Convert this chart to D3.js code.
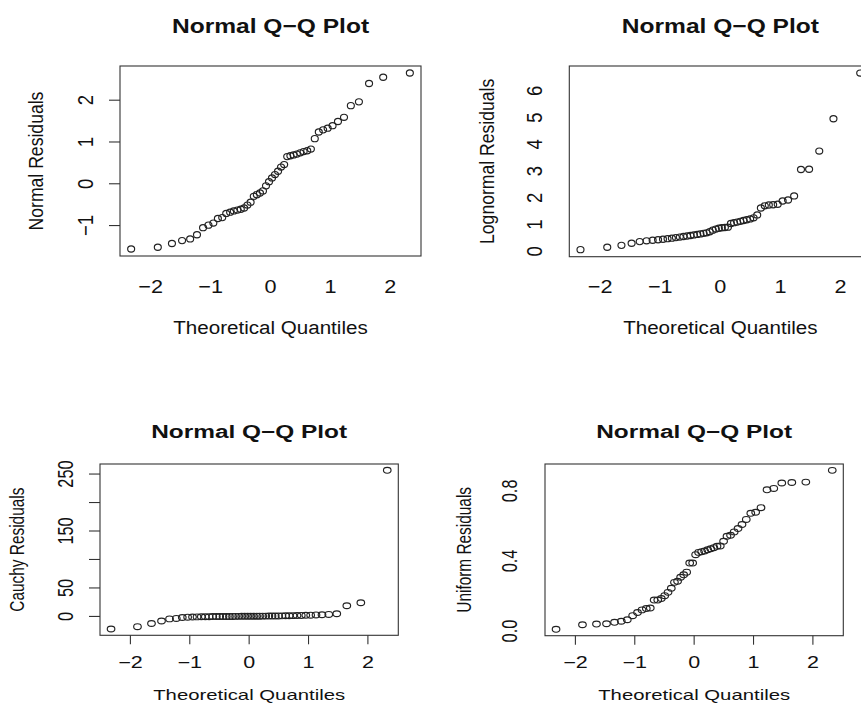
<!DOCTYPE html>
<html><head><meta charset="utf-8">
<script src="https://cdn.jsdelivr.net/npm/d3@7"></script>
<style>body{margin:0;background:#fff}svg{display:block}text{font-family:"Liberation Sans",Arial,sans-serif;fill:#111}</style>
</head><body>
<svg id="c" width="861" height="705"></svg>
<script>
const theoreticalQuantiles = [-2.326,-1.881,-1.645,-1.476,-1.341,-1.227,-1.126,-1.036,-0.954,-0.878,-0.806,-0.739,-0.674,-0.613,-0.553,-0.496,-0.440,-0.385,-0.332,-0.279,-0.228,-0.176,-0.126,-0.075,-0.025,0.025,0.075,0.126,0.176,0.228,0.279,0.332,0.385,0.440,0.496,0.553,0.613,0.674,0.739,0.806,0.878,0.954,1.036,1.126,1.227,1.341,1.476,1.645,1.881,2.326];
const normalResiduals = [-1.56,-1.52,-1.43,-1.36,-1.32,-1.22,-1.05,-0.99,-0.94,-0.83,-0.81,-0.71,-0.68,-0.65,-0.63,-0.61,-0.58,-0.51,-0.44,-0.30,-0.26,-0.22,-0.17,-0.05,0.05,0.14,0.22,0.30,0.40,0.46,0.65,0.67,0.69,0.71,0.74,0.77,0.79,0.83,1.08,1.24,1.29,1.33,1.39,1.49,1.59,1.87,1.96,2.40,2.55,2.65];
const lognormalResiduals = [0.06,0.15,0.22,0.30,0.36,0.39,0.41,0.43,0.45,0.47,0.49,0.51,0.53,0.55,0.57,0.59,0.61,0.63,0.65,0.67,0.69,0.73,0.79,0.83,0.86,0.88,0.89,0.90,1.04,1.07,1.09,1.12,1.15,1.18,1.21,1.25,1.36,1.62,1.70,1.73,1.74,1.76,1.88,1.92,2.07,3.06,3.07,3.75,4.96,6.67];
const cauchyResiduals = [-22,-18,-12.5,-8,-4.3,-3.5,-1.8,-1.3,-1.0,-0.8,-0.6,-0.5,-0.4,-0.3,-0.25,-0.2,-0.15,-0.1,-0.05,0,0.05,0.1,0.15,0.2,0.25,0.3,0.35,0.4,0.45,0.5,0.55,0.6,0.7,0.8,0.9,1.0,1.1,1.2,1.4,1.6,1.8,2.0,2.2,2.6,2.9,3.5,4.7,18.8,24,256.5];
const uniformResiduals = [0.010,0.036,0.040,0.042,0.050,0.056,0.065,0.088,0.106,0.121,0.129,0.132,0.177,0.177,0.186,0.202,0.221,0.244,0.278,0.284,0.307,0.321,0.336,0.388,0.388,0.436,0.449,0.453,0.457,0.464,0.470,0.476,0.484,0.486,0.512,0.541,0.547,0.566,0.585,0.608,0.637,0.672,0.678,0.704,0.806,0.814,0.845,0.848,0.850,0.917];

const xTicks = [-2,-1,0,1,2];
const normalYTicks = [-1,0,1,2];
const lognormalYTicks = [0,1,2,3,4,5,6];
const cauchyYTicks = [0,50,100,150,200,250];
const cauchyYLabels = [0,50,150,250];
const uniformYTicks = [0.0,0.4,0.8];

const titleText = "Normal Q\u2212Q Plot";
const xTitle = "Theoretical Quantiles";

const svg = d3.select("#c");
const fmtX = d3.format("d");

const rows = {
  top:    {sx:1.17, tick:18.5, axis:17.6, title:21, rx:3.5, ry:3.1},
  bottom: {sx:1.32, tick:16.3, axis:15.4, title:18.5, rx:3.8, ry:2.9}
};

function txt(g, x, y, s, size, sx, rot, bold) {
  g.append("text")
    .attr("transform", `translate(${x},${y}) scale(${sx},1)` + (rot ? " rotate(-90)" : ""))
    .attr("text-anchor", "middle")
    .attr("font-size", size)
    .attr("font-weight", bold ? "bold" : "normal")
    .text(s);
}

const panels = [
  {row:"top", box:[120,66,421,256], data:normalResiduals, yTicks:normalYTicks, yLabels:normalYTicks, yFmt:d3.format("d"),
   yName:"Normal Residuals", showX:false, showY:true, titleY:33, xLabY:293, xTitleY:334, yLabX:93, yTitleX:43},
  {row:"top", box:[569.3,66,871.4,256.7], data:lognormalResiduals, yTicks:lognormalYTicks, yLabels:lognormalYTicks, yFmt:d3.format("d"),
   yName:"Lognormal Residuals", showX:false, showY:false, titleY:33, xLabY:293, xTitleY:334, yLabX:542, yTitleX:494},
  {row:"bottom", box:[100,464,398.3,635.3], data:cauchyResiduals, yTicks:cauchyYTicks, yLabels:cauchyYLabels, yFmt:d3.format("d"),
   yName:"Cauchy Residuals", showX:true, showY:true, titleY:438, xLabY:668, xTitleY:700, yLabX:73, yTitleX:24},
  {row:"bottom", box:[545,464,843.3,635.7], data:uniformResiduals, yTicks:uniformYTicks, yLabels:uniformYTicks, yFmt:d3.format(".1f"),
   yName:"Uniform Residuals", showX:true, showY:false, titleY:438, xLabY:668, xTitleY:700, yLabX:517, yTitleX:471}
];

function expand(ext) {
  const r = ext[1] - ext[0];
  return [ext[0] - 0.04 * r, ext[1] + 0.04 * r];
}

panels.forEach(p => {
  const R = rows[p.row];
  const [l, t, r, b] = p.box;
  const g = svg.append("g");
  const x = d3.scaleLinear().domain(expand(d3.extent(theoreticalQuantiles))).range([l, r]);
  const y = d3.scaleLinear().domain(expand(d3.extent(p.data))).range([b, t]);
  const cx = (l + r) / 2, cy = (t + b) / 2;

  g.append("rect").attr("x", l).attr("y", t).attr("width", r - l).attr("height", b - t)
    .attr("fill", "none").attr("stroke", "#333").attr("stroke-width", 1.1);

  g.selectAll("ellipse").data(p.data).join("ellipse")
    .attr("cx", (d, i) => x(theoreticalQuantiles[i]))
    .attr("cy", d => y(d))
    .attr("rx", R.rx).attr("ry", R.ry)
    .attr("fill", "none").attr("stroke", "#222").attr("stroke-width", 1.15);

  if (p.showX) {
    g.selectAll("line.xt").data(xTicks).join("line").attr("class", "xt")
      .attr("x1", d => x(d)).attr("x2", d => x(d)).attr("y1", b).attr("y2", b + 9)
      .attr("stroke", "#333").attr("stroke-width", 1.1);
  }
  xTicks.forEach(v => txt(g, x(v), p.xLabY, fmtX(v), R.tick, R.sx, false, false));

  if (p.showY) {
    g.selectAll("line.yt").data(p.yTicks).join("line").attr("class", "yt")
      .attr("y1", d => y(d)).attr("y2", d => y(d)).attr("x1", l - 11).attr("x2", l)
      .attr("stroke", "#333").attr("stroke-width", 1.1);
  }
  p.yLabels.forEach(v => txt(g, p.yLabX, y(v), p.yFmt(v), R.tick, R.sx, true, false));

  txt(g, cx, p.titleY, titleText, R.title, R.sx, false, true);
  txt(g, cx, p.xTitleY, xTitle, R.axis, R.sx, false, false);
  txt(g, p.yTitleX, cy, p.yName, R.axis, R.sx, true, false);
});
</script>
</body></html>
